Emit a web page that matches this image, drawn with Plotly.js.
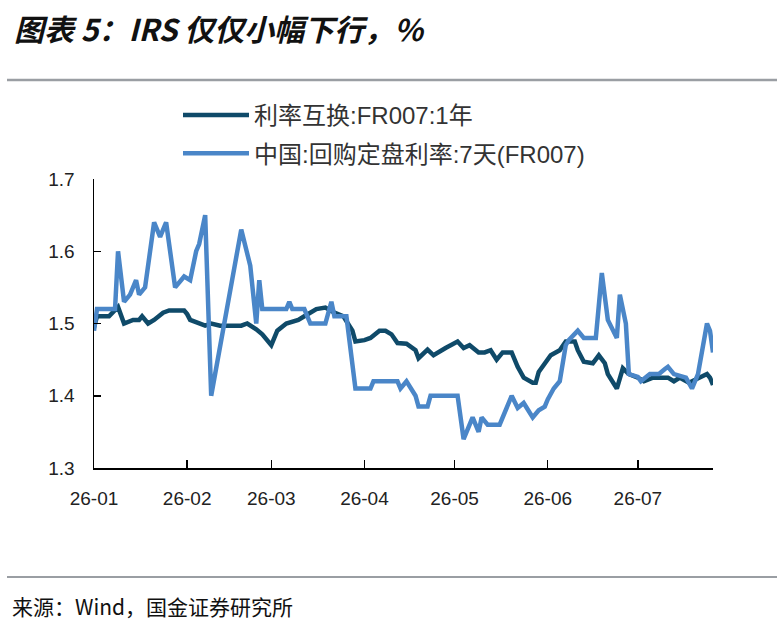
<!DOCTYPE html>
<html>
<head>
<meta charset="utf-8">
<script src="https://cdn.plot.ly/plotly-3.0.1.min.js"></script>
<style>
  html, body { margin: 0; padding: 0; background: #fff; }
  #chart { width: 777px; height: 627px; }
</style>
</head>
<body>
<div id="chart"></div>
<script>
// 利率互换:FR007:1年
var irsDates = ['2026-01-01','2026-01-02','2026-01-06','2026-01-07','2026-01-09','2026-01-11','2026-01-14','2026-01-16','2026-01-17','2026-01-19',
	'2026-01-21','2026-01-24','2026-01-26','2026-01-31','2026-02-01','2026-02-02','2026-02-05','2026-02-07','2026-02-09','2026-02-12',
	'2026-02-19','2026-02-21','2026-02-24','2026-02-26','2026-03-01','2026-03-03','2026-03-06','2026-03-10','2026-03-12','2026-03-16',
	'2026-03-19','2026-03-22','2026-03-25','2026-03-28','2026-03-29','2026-04-01','2026-04-03','2026-04-06','2026-04-08','2026-04-10',
	'2026-04-12','2026-04-15','2026-04-18','2026-04-19','2026-04-22','2026-04-24','2026-04-28','2026-05-02','2026-05-04','2026-05-06',
	'2026-05-09','2026-05-11','2026-05-13','2026-05-15','2026-05-17','2026-05-20','2026-05-22','2026-05-24','2026-05-27','2026-05-28',
	'2026-05-29','2026-05-31','2026-06-02','2026-06-05','2026-06-07','2026-06-10','2026-06-11','2026-06-13','2026-06-16','2026-06-18',
	'2026-06-20','2026-06-21','2026-06-24','2026-06-26','2026-06-28','2026-07-01','2026-07-03','2026-07-06','2026-07-11','2026-07-13',
	'2026-07-15','2026-07-18','2026-07-22','2026-07-24','2026-07-25','2026-07-26'];
var irsValues = [1.495,1.51,1.51,1.515,1.523,1.50,1.505,1.505,1.51,1.50,
	1.505,1.515,1.518,1.518,1.513,1.505,1.50,1.497,1.50,1.497,
	1.497,1.50,1.492,1.485,1.47,1.49,1.50,1.505,1.51,1.52,
	1.522,1.515,1.51,1.49,1.475,1.477,1.48,1.49,1.49,1.485,
	1.473,1.472,1.463,1.452,1.464,1.456,1.466,1.475,1.466,1.47,
	1.46,1.46,1.463,1.45,1.46,1.46,1.44,1.425,1.418,1.418,
	1.433,1.445,1.456,1.463,1.475,1.475,1.463,1.447,1.445,1.456,
	1.445,1.43,1.41,1.438,1.43,1.425,1.42,1.425,1.425,1.42,
	1.425,1.418,1.425,1.43,1.425,1.415];

// 中国:回购定盘利率:7天(FR007)
var frDates = ['2026-01-01','2026-01-02','2026-01-08','2026-01-09','2026-01-11','2026-01-13','2026-01-15','2026-01-16','2026-01-18','2026-01-21',
	'2026-01-23','2026-01-25','2026-01-28','2026-01-31','2026-02-02','2026-02-04','2026-02-05','2026-02-07','2026-02-09','2026-02-19',
	'2026-02-22','2026-02-24','2026-02-25','2026-02-26','2026-03-06','2026-03-07','2026-03-08','2026-03-12','2026-03-14','2026-03-19',
	'2026-03-21','2026-03-22','2026-03-26','2026-03-29','2026-04-03','2026-04-04','2026-04-12','2026-04-13','2026-04-15','2026-04-18',
	'2026-04-19','2026-04-22','2026-04-23','2026-05-02','2026-05-04','2026-05-07','2026-05-09','2026-05-10','2026-05-12','2026-05-16',
	'2026-05-20','2026-05-22','2026-05-24','2026-05-27','2026-05-29','2026-05-31','2026-06-01','2026-06-03','2026-06-05','2026-06-07',
	'2026-06-08','2026-06-11','2026-06-13','2026-06-17','2026-06-19','2026-06-21','2026-06-24','2026-06-25','2026-06-27','2026-06-28',
	'2026-07-01','2026-07-02','2026-07-05','2026-07-08','2026-07-10','2026-07-11','2026-07-13','2026-07-17','2026-07-19','2026-07-21',
	'2026-07-24','2026-07-25','2026-07-26'];
var frValues = [1.49,1.52,1.52,1.60,1.53,1.54,1.56,1.54,1.55,1.64,
	1.62,1.64,1.55,1.565,1.56,1.60,1.61,1.65,1.40,1.63,
	1.58,1.50,1.56,1.52,1.52,1.53,1.52,1.52,1.50,1.50,
	1.53,1.51,1.51,1.41,1.41,1.42,1.42,1.41,1.42,1.40,
	1.385,1.385,1.40,1.40,1.34,1.37,1.35,1.37,1.36,1.36,
	1.40,1.383,1.39,1.37,1.38,1.385,1.395,1.41,1.42,1.47,
	1.477,1.49,1.48,1.48,1.57,1.505,1.48,1.54,1.50,1.43,
	1.426,1.42,1.43,1.43,1.437,1.44,1.43,1.425,1.41,1.43,
	1.50,1.49,1.46];

var tickDates = ['2026-01-01','2026-02-01','2026-03-01','2026-04-01','2026-05-01','2026-06-01','2026-07-01'];
var tickLabels = ['26-01','26-02','26-03','26-04','26-05','26-06','26-07'];

var seriesNames = ['利率互换:FR007:1年', '中国:回购定盘利率:7天(FR007)'];
var titleText = '图表 5：IRS 仅仅小幅下行，%';
var sourceText = '来源：Wind，国金证券研究所';

var W = 777, H = 627;
var L = 94, R = 713, T = 179, B = 468;
// pixel -> paper helpers for the decorations outside the plot area
function px(x) { return (x - L) / (R - L); }
function py(y) { return (B - y) / (B - T); }

var cjk = '"Noto Sans CJK SC", "Liberation Sans", sans-serif';
var mixed = '"Liberation Sans", "Noto Sans CJK SC", Arial, sans-serif';
var latin = '"Liberation Sans", Arial, sans-serif';

var traces = [{
	x: irsDates, y: irsValues,
	name: seriesNames[0],
	type: 'scatter', mode: 'lines',
	line: {color: '#0f4a69', width: 4.5},
	legendgroup: 'a'
}, {
	x: frDates, y: frValues,
	name: seriesNames[1],
	type: 'scatter', mode: 'lines',
	line: {color: '#4a86c8', width: 4.5},
	legendgroup: 'b'
}];

var layout = {
	width: W, height: H,
	margin: {l: L, r: W - R, t: T, b: H - B, pad: 0},
	paper_bgcolor: '#fff',
	plot_bgcolor: '#fff',
	showlegend: true,
	legend: {
		x: px(178), y: py(93), xanchor: 'left', yanchor: 'top',
		font: {family: mixed, size: 24, color: '#333'},
		bgcolor: 'rgba(0,0,0,0)',
		tracegroupgap: 4,
		itemwidth: 66
	},
	xaxis: {
		type: 'date',
		range: ['2026-01-01', '2026-07-26'],
		tickvals: tickDates,
		ticktext: tickLabels,
		ticks: 'inside', ticklen: 8, tickwidth: 1.5, tickcolor: '#000',
		showline: true, linecolor: '#000', linewidth: 1.5,
		showgrid: false, zeroline: false,
		ticklabelstandoff: 13,
		tickfont: {family: latin, size: 19, color: '#222'}
	},
	yaxis: {
		range: [1.3, 1.7],
		dtick: 0.1, tick0: 1.3,
		tickformat: '.1f',
		ticks: 'inside', ticklen: 7, tickwidth: 1.5, tickcolor: '#000',
		showline: true, linecolor: '#000', linewidth: 1.5,
		showgrid: false, zeroline: false,
		ticklabelstandoff: 14,
		tickfont: {family: latin, size: 19, color: '#222'}
	},
	shapes: [{
		type: 'line', xref: 'paper', yref: 'paper',
		x0: px(7), x1: px(777), y0: py(80), y1: py(80),
		line: {color: '#9a9ea3', width: 2.5}
	}, {
		type: 'line', xref: 'paper', yref: 'paper',
		x0: px(7), x1: px(777), y0: py(577), y1: py(577),
		line: {color: '#9a9ea3', width: 2}
	}],
	annotations: [{
		xref: 'paper', yref: 'paper',
		x: px(12), y: py(28), xanchor: 'left', yanchor: 'middle',
		text: '<b><i>' + titleText + '</i></b>',
		showarrow: false,
		font: {family: cjk, size: 30, color: '#111'}
	}, {
		xref: 'paper', yref: 'paper',
		x: px(10), y: py(606), xanchor: 'left', yanchor: 'middle',
		text: sourceText,
		showarrow: false,
		font: {family: cjk, size: 21, color: '#111'}
	}]
};

Plotly.newPlot('chart', traces, layout, {displayModeBar: false, staticPlot: true});
</script>
</body>
</html>
